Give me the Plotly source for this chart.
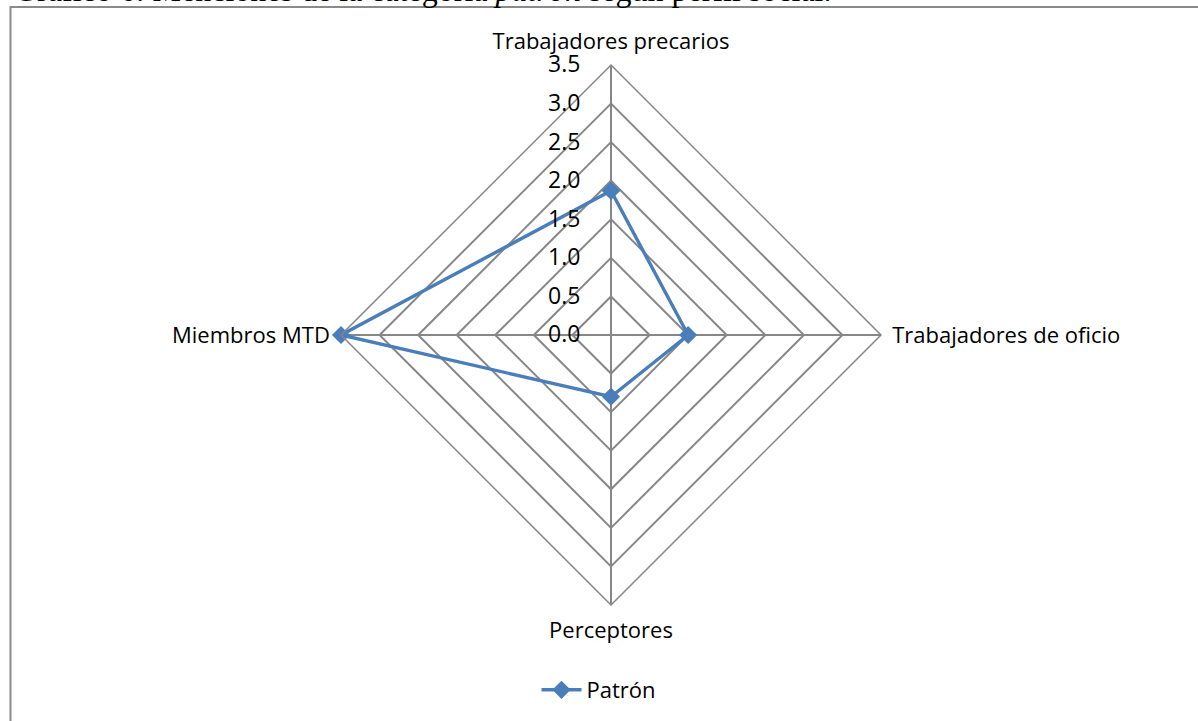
import plotly.graph_objects as go

categories = ["Trabajadores precarios", "Trabajadores de oficio", "Perceptores", "Miembros MTD"]
values = [1.87, 1.0, 0.8, 3.5]
series_name = "Patrón"
radial_ticks = [0.0, 0.5, 1.0, 1.5, 2.0, 2.5, 3.0, 3.5]

W, H = 1198, 721
cx, cy, R = 611, 335, 270

fig = go.Figure()
fig.add_trace(go.Scatterpolar(
    r=values + values[:1],
    theta=categories + categories[:1],
    mode="lines+markers",
    name=series_name,
    line=dict(color="#4a7ebb", width=3.4),
    marker=dict(symbol="diamond", size=14, color="#4a7ebb"),
))

fig.update_layout(
    width=W, height=H,
    margin=dict(l=0, r=0, t=0, b=0),
    paper_bgcolor="white",
    plot_bgcolor="white",
    font=dict(family="Open Sans, sans-serif", size=22, color="black"),
    polar=dict(
        domain=dict(x=[(cx - R) / W, (cx + R) / W], y=[1 - (cy + R) / H, 1 - (cy - R) / H]),
        bgcolor="white",
        gridshape="linear",
        angularaxis=dict(
            rotation=90, direction="clockwise",
            showline=True, linecolor="#878787", linewidth=1.5,
            gridcolor="#878787", gridwidth=1.5,
            ticks="outside", ticklen=6, tickcolor="rgba(0,0,0,0)",
            tickfont=dict(size=22),
        ),
        radialaxis=dict(
            range=[0, 3.5], tickvals=radial_ticks, tickformat=".1f",
            angle=90, tickangle=90, side="counterclockwise",
            showline=False, gridcolor="#878787", gridwidth=1.5,
            ticks="outside", ticklen=22, tickcolor="rgba(0,0,0,0)",
            tickfont=dict(size=23),
        ),
    ),
    showlegend=True,
    legend=dict(orientation="h", x=0.5, xanchor="center", y=1 - 690 / H, yanchor="middle",
                font=dict(size=22), itemwidth=40),
    shapes=[dict(type="rect", xref="paper", yref="paper",
                 x0=10.5 / W, x1=1.02, y0=-0.02, y1=1 - 7 / H,
                 line=dict(color="#8a8a8a", width=2))],
    annotations=[dict(
        text="Gráfico 6: Menciones de la categoría <i>patrón</i> según perfil social.",
        xref="paper", yref="paper", x=12 / W, y=1 - 10.5 / H, xanchor="left", yanchor="bottom",
        showarrow=False, font=dict(family="Liberation Serif, Times New Roman, serif", size=32))],
)

fig.write_html("out.html", config={"displayModeBar": False},
               post_script="document.body.style.margin='0px';")
